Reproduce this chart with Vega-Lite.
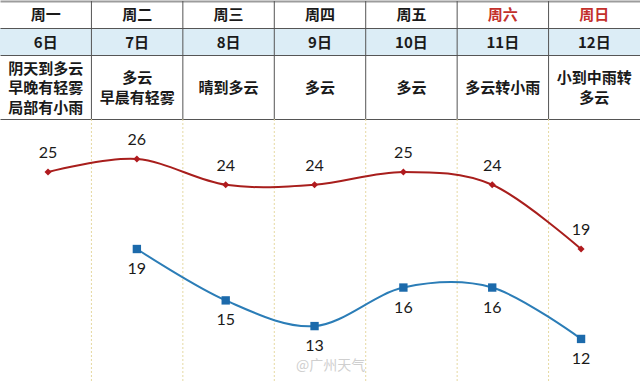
{
  "$schema": "https://vega.github.io/schema/vega-lite/v6.json",
  "padding": 0,
  "spacing": 0,
  "bounds": "flush",
  "background": "white",
  "config": {
    "view": {"stroke": null},
    "axis": {"labels": false, "ticks": false, "title": null, "grid": false, "domain": false}
  },
  "datasets": {
    "days": [
      {"day": "周一", "date": "6日", "desc": "阴天到多云\n早晚有轻雾\n局部有小雨", "high": 25, "low": null, "kind": "工作日"},
      {"day": "周二", "date": "7日", "desc": "多云\n早晨有轻雾", "high": 26, "low": 19, "kind": "工作日"},
      {"day": "周三", "date": "8日", "desc": "晴到多云", "high": 24, "low": 15, "kind": "工作日"},
      {"day": "周四", "date": "9日", "desc": "多云", "high": 24, "low": 13, "kind": "工作日"},
      {"day": "周五", "date": "10日", "desc": "多云", "high": 25, "low": 16, "kind": "工作日"},
      {"day": "周六", "date": "11日", "desc": "多云转小雨", "high": 24, "low": 16, "kind": "周末"},
      {"day": "周日", "date": "12日", "desc": "小到中雨转\n多云", "high": 19, "low": 12, "kind": "周末"}
    ]
  },
  "data": {"name": "days"},
  "vconcat": [
    {
      "width": 640, "height": 27,
      "layer": [
        {
          "mark": {"type": "text", "font": "Noto Sans CJK SC", "fontSize": 15, "fontWeight": "bold"},
          "encoding": {
            "x": {"field": "day", "type": "nominal", "scale": {"type": "band", "domain": ["周一","周二","周三","周四","周五","周六","周日"], "paddingInner": 0, "paddingOuter": 0}, "axis": {"orient": "top", "domain": true, "domainColor": "#9c9c9c", "domainWidth": 2}},
            "text": {"field": "day"},
            "color": {"field": "kind", "type": "nominal", "scale": {"domain": ["工作日", "周末"], "range": ["#1a1a1a", "#c3302b"]}, "legend": null}
          }
        },
        {
          "mark": {"type": "rule", "color": "#555555", "strokeWidth": 1},
          "transform": [{"filter": "datum.day != '周一'"}],
          "encoding": {
            "x": {"field": "day", "type": "nominal", "bandPosition": 0, "scale": {"type": "band", "domain": ["周一","周二","周三","周四","周五","周六","周日"], "paddingInner": 0, "paddingOuter": 0}}
          }
        }
      ]
    },
    {
      "width": 640, "height": 27,
      "view": {"fill": "#dcedf6", "stroke": null},
      "layer": [
        {
          "mark": {"type": "text", "font": "Noto Sans CJK SC", "fontSize": 15, "fontWeight": "bold", "color": "#1a1a1a", "dy": 1},
          "encoding": {
            "x": {"field": "day", "type": "nominal", "scale": {"type": "band", "domain": ["周一","周二","周三","周四","周五","周六","周日"], "paddingInner": 0, "paddingOuter": 0}, "axis": {"orient": "top", "domain": true, "domainColor": "#555555", "domainWidth": 1}},
            "text": {"field": "date"}
          }
        },
        {
          "mark": {"type": "rule", "color": "#555555", "strokeWidth": 1},
          "transform": [{"filter": "datum.day != '周一'"}],
          "encoding": {
            "x": {"field": "day", "type": "nominal", "bandPosition": 0, "scale": {"type": "band", "domain": ["周一","周二","周三","周四","周五","周六","周日"], "paddingInner": 0, "paddingOuter": 0}}
          }
        }
      ]
    },
    {
      "width": 640, "height": 64,
      "encoding": {
        "x": {"field": "day", "type": "nominal", "scale": {"type": "band", "domain": ["周一","周二","周三","周四","周五","周六","周日"], "paddingInner": 0, "paddingOuter": 0}, "axis": {"orient": "top", "domain": true, "domainColor": "#555555", "domainWidth": 1}}
      },
      "layer": [
        {
          "transform": [{"filter": "length(split(datum.desc, '\\n')) == 1"}],
          "mark": {"type": "text", "font": "Noto Sans CJK SC", "fontSize": 15, "fontWeight": "bold", "color": "#1a1a1a", "lineBreak": "\n", "lineHeight": 19.5, "dy": 1},
          "encoding": {"text": {"field": "desc"}}
        },
        {
          "transform": [{"filter": "length(split(datum.desc, '\\n')) == 2"}],
          "mark": {"type": "text", "font": "Noto Sans CJK SC", "fontSize": 15, "fontWeight": "bold", "color": "#1a1a1a", "lineBreak": "\n", "lineHeight": 19.5, "dy": -8.75},
          "encoding": {"text": {"field": "desc"}}
        },
        {
          "transform": [{"filter": "length(split(datum.desc, '\\n')) == 3"}],
          "mark": {"type": "text", "font": "Noto Sans CJK SC", "fontSize": 15, "fontWeight": "bold", "color": "#1a1a1a", "lineBreak": "\n", "lineHeight": 19.5, "dy": -18.5},
          "encoding": {"text": {"field": "desc"}}
        },
        {
          "mark": {"type": "rule", "color": "#555555", "strokeWidth": 1},
          "transform": [{"filter": "datum.day != '周一'"}],
          "encoding": {
            "x": {"field": "day", "type": "nominal", "bandPosition": 0, "scale": {"type": "band", "domain": ["周一","周二","周三","周四","周五","周六","周日"], "paddingInner": 0, "paddingOuter": 0}}
          }
        }
      ]
    },
    {
      "width": 640, "height": 264,
      "resolve": {"scale": {"x": "independent"}, "axis": {"x": "independent"}},
      "layer": [
        {
          "mark": {"type": "rule", "color": "#e6d9a2", "strokeWidth": 1, "strokeDash": [2, 2]},
          "transform": [{"filter": "datum.day != '周一'"}],
          "encoding": {
            "x": {"field": "day", "type": "nominal", "bandPosition": 0, "scale": {"type": "band", "domain": ["周一","周二","周三","周四","周五","周六","周日"], "paddingInner": 0, "paddingOuter": 0}, "axis": {"orient": "top", "domain": true, "domainColor": "#555555", "domainWidth": 1}}
          }
        },
        {
          "encoding": {
            "x": {"field": "day", "type": "nominal", "scale": {"type": "point", "domain": ["周一","周二","周三","周四","周五","周六","周日"], "padding": 0.602, "align": 0.449}, "axis": null}
          },
          "layer": [
            {
              "mark": {"type": "line", "color": "#a81e1c", "strokeWidth": 2, "interpolate": "cardinal"},
              "encoding": {"y": {"field": "high", "type": "quantitative", "scale": {"domain": [8.57, 29.12], "nice": false, "zero": false}, "axis": null}}
            },
            {
              "mark": {"type": "point", "shape": "diamond", "filled": true, "opacity": 1, "size": 50, "color": "#b01a1e"},
              "encoding": {"y": {"field": "high", "type": "quantitative"}}
            },
            {
              "mark": {"type": "text", "font": "Lato", "fontSize": 16, "color": "#1a1a1a", "dy": -19},
              "encoding": {"y": {"field": "high", "type": "quantitative"}, "text": {"field": "high"}}
            },
            {
              "transform": [{"filter": "datum.low != null"}],
              "mark": {"type": "line", "color": "#2b7db7", "strokeWidth": 2, "interpolate": "cardinal"},
              "encoding": {"y": {"field": "low", "type": "quantitative"}}
            },
            {
              "transform": [{"filter": "datum.low != null"}],
              "mark": {"type": "point", "shape": "square", "filled": true, "opacity": 1, "size": 70, "color": "#1c6aab"},
              "encoding": {"y": {"field": "low", "type": "quantitative"}}
            },
            {
              "transform": [{"filter": "datum.low != null"}],
              "mark": {"type": "text", "font": "Lato", "fontSize": 16, "color": "#1a1a1a", "dy": 20},
              "encoding": {"y": {"field": "low", "type": "quantitative"}, "text": {"field": "low"}}
            },
            {
              "data": {"values": [{"mark": "@广州天气"}]},
              "mark": {"type": "text", "font": "Noto Sans CJK SC", "fontSize": 14, "color": "#cfcfcf", "dx": 16},
              "encoding": {
                "x": {"datum": "周四", "type": "nominal"},
                "y": {"datum": 9.9, "type": "quantitative"},
                "text": {"field": "mark"}
              }
            }
          ]
        }
      ]
    }
  ]
}
